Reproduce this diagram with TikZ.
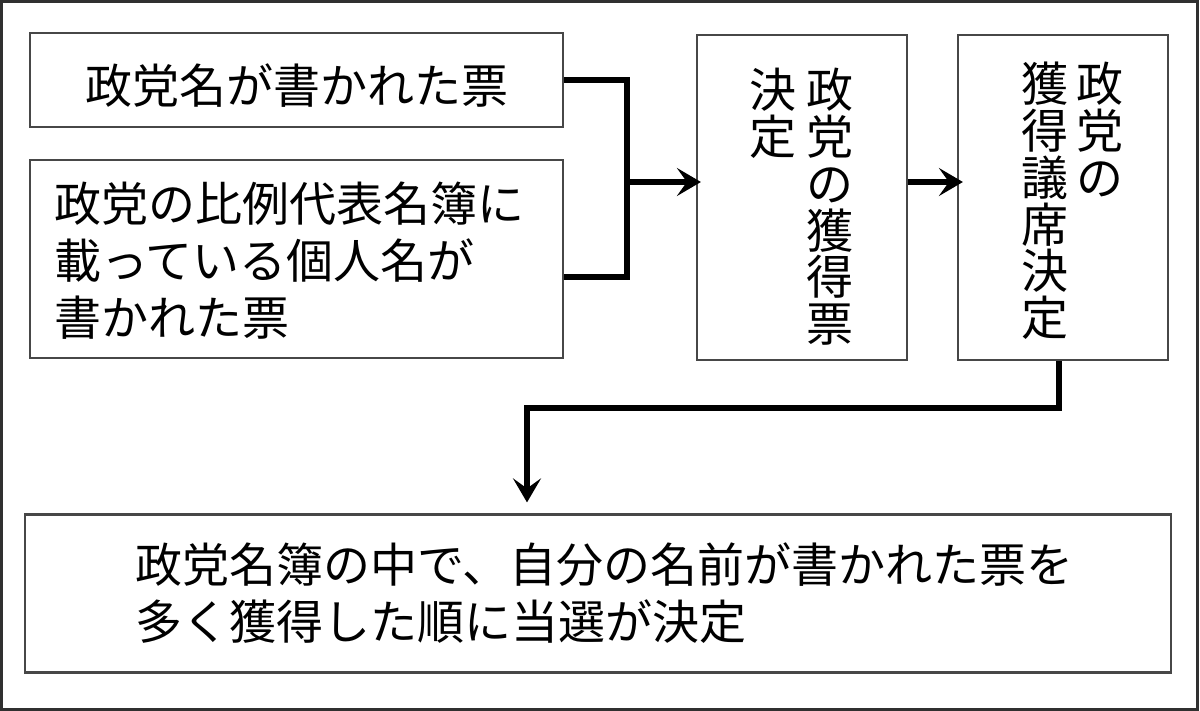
\documentclass[tikz,border=0pt]{standalone}
\usepackage{fontspec}
\newfontfamily\jp{Noto Sans CJK JP}
\usetikzlibrary{arrows.meta}
\definecolor{boxgray}{HTML}{474747}
\definecolor{framegray}{HTML}{303030}
\begin{document}
\begin{tikzpicture}[x=1pt,y=-1pt,
  box/.style={draw=boxgray, line width=2.2pt, inner sep=0pt, rectangle},
  conn/.style={line width=6pt, black},
  arr/.style={conn, -{Stealth[length=24pt,width=28pt,inset=10pt]}},
  txt/.style={font=\jp\fontsize{47pt}{57pt}\selectfont, inner sep=0pt, text=black},
  vtxt/.style={font=\jp\fontsize{47pt}{46.8pt}\selectfont, inner sep=0pt, align=center, anchor=north, text=black}]
\useasboundingbox (0,0) rectangle (1200,711);
\draw[framegray, line width=3pt] (1.5,1.5) rectangle (1197.5,709.5);
% boxes
\node[box, minimum width=533pt, minimum height=94pt] (A) at (296.5,80) {};
\node[box, minimum width=533pt, minimum height=198pt] (B) at (296.5,259) {};
\node[box, minimum width=210pt, minimum height=325pt] (C) at (802,197.5) {};
\node[box, minimum width=210pt, minimum height=325pt] (D) at (1063,197.5) {};
\node[box, minimum width=1146pt, minimum height=158pt] (E) at (598,593.5) {};
% texts
\node[txt] (At) at (297,86) {政党名が書かれた票};
\node[txt, anchor=north west, align=left] (Bt) at (54,182) {政党の比例代表名簿に\\載っている個人名が\\書かれた票};
\node[vtxt] (Cr) at (830,68) {政\\党\\の\\獲\\得\\票};
\node[vtxt] (Cl) at (773,68) {決\\定};
\node[vtxt] (Dr) at (1100,62) {政\\党\\の};
\node[vtxt] (Dl) at (1045,62) {獲\\得\\議\\席\\決\\定};
\node[txt, anchor=north west, align=left] (Et) at (135,543) {政党名簿の中で、自分の名前が書かれた票を\\多く獲得した順に当選が決定};
% connectors
\coordinate (j) at (627,182);
\coordinate (k) at (527,408);
\draw[conn] (A.east) -| (j);
\draw[conn] ([yshift=-18pt]B.east) -| (j);
\draw[arr] (j) -- ([xshift=5pt]j -| C.west);
\draw[arr] (C.east |- j) -- ([xshift=6pt]D.west |- j);
\draw[arr] ([xshift=-4pt]D.south) |- (k) -- ([yshift=11pt]E.north -| k);
\end{tikzpicture}
\end{document}
